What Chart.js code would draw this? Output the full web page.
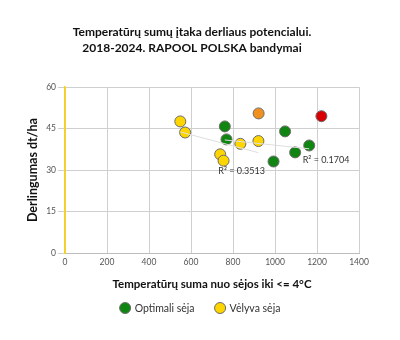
<!DOCTYPE html>
<html>
<head>
<meta charset="utf-8">
<script src="https://cdn.jsdelivr.net/npm/chart.js@4"></script>
<style>
  html, body { margin: 0; padding: 0; background: #fff; }
  #wrap { width: 400px; height: 340px; }
</style>
</head>
<body>
<div id="wrap"><canvas id="chart"></canvas></div>
<script>
// ===== Data =====
const optimalX = [761, 769, 993, 1048, 1096, 1163];
const optimalY = [45.8, 41.1, 33.1, 44.0, 36.4, 38.9];
const lateX = [549, 572, 739, 755, 835, 921];
const lateY = [47.6, 43.6, 35.7, 33.4, 39.5, 40.5];
const orangeX = [922];
const orangeY = [50.5];
const redX = [1221];
const redY = [49.5];

// trend lines
const trendLateX = [549, 921];
const trendLateY = [43.8, 36.3];
const trendOptX = [761, 1163];
const trendOptY = [40.9, 37.7];

const r2Labels = ["R² = 0.3513", "R² = 0.1704"];
const r2X = [841, 1243];
const r2Y = [29.6, 33.6];

const xTicks = [0, 200, 400, 600, 800, 1000, 1200, 1400];
const yTicks = [0, 15, 30, 45, 60];
const legendNames = ["Optimali sėja", "Vėlyva sėja"];

const toPoints = (xs, ys) => xs.map((x, i) => ({ x, y: ys[i] }));

// ===== R² text =====
const r2Plugin = {
  id: "r2Text",
  afterDatasetsDraw(chart) {
    const { ctx, scales } = chart;
    ctx.save();
    ctx.font = "9px Lato";
    ctx.fillStyle = "#333";
    ctx.textAlign = "center";
    ctx.textBaseline = "middle";
    r2Labels.forEach((t, i) => {
      ctx.fillText(t, scales.x.getPixelForValue(r2X[i]), scales.y.getPixelForValue(r2Y[i]));
    });
    ctx.restore();
  }
};

// ===== Legend (only the two named series) =====
const legendPlugin = {
  id: "bottomLegend",
  afterDraw(chart) {
    const { ctx } = chart;
    const items = chart.data.datasets.filter(d => legendNames.includes(d.label));
    ctx.save();
    ctx.font = "10.5px Lato";
    const r = 5.5, gap = 4, spacing = 20, y = 308;
    const widths = items.map(d => 2 * r + gap + ctx.measureText(d.label).width);
    const total = widths.reduce((a, b) => a + b, 0) + spacing * (items.length - 1);
    let x = (chart.width - total) / 2;
    items.forEach((d, i) => {
      ctx.beginPath();
      ctx.arc(x + r, y, r, 0, Math.PI * 2);
      ctx.fillStyle = d.backgroundColor;
      ctx.fill();
      ctx.lineWidth = 1;
      ctx.strokeStyle = d.borderColor;
      ctx.stroke();
      ctx.fillStyle = "#333";
      ctx.textBaseline = "middle";
      ctx.fillText(d.label, x + 2 * r + gap, y + 0.5);
      x += widths[i] + spacing;
    });
    ctx.restore();
  }
};

const pointStyle = (fill) => ({
  type: "scatter",
  backgroundColor: fill,
  borderColor: "#6b6b6b",
  borderWidth: 1,
  pointRadius: 5.5,
  pointHoverRadius: 5.5
});

const trendStyle = {
  type: "line",
  borderColor: "#dedede",
  borderWidth: 1,
  pointRadius: 0,
  fill: false
};

new Chart(document.getElementById("chart"), {
  data: {
    datasets: [
      { ...trendStyle, label: "trendLate", data: toPoints(trendLateX, trendLateY) },
      { ...trendStyle, label: "trendOpt", data: toPoints(trendOptX, trendOptY) },
      { ...pointStyle("#118511"), label: "Optimali sėja", data: toPoints(optimalX, optimalY) },
      { ...pointStyle("#ffd500"), label: "Vėlyva sėja", data: toPoints(lateX, lateY) },
      { ...pointStyle("#f0901e"), label: "orange", data: toPoints(orangeX, orangeY) },
      { ...pointStyle("#d80000"), label: "red", data: toPoints(redX, redY) }
    ]
  },
  options: {
    responsive: true,
    maintainAspectRatio: false,
    animation: false,
    layout: { padding: { top: 20, left: 25, right: 41, bottom: 49 } },
    plugins: {
      tooltip: { enabled: false },
      legend: { display: false },
      title: {
        display: true,
        text: ["Temperatūrų sumų įtaka derliaus potencialui.", "2018-2024. RAPOOL POLSKA bandymai"],
        color: "#111",
        font: { family: "Lato", size: 12, weight: "bold", lineHeight: 1.34 },
        padding: { top: 4, bottom: 31 }
      }
    },
    scales: {
      x: {
        type: "linear",
        min: 0,
        max: 1400,
        afterBuildTicks: (s) => { s.ticks = xTicks.map(v => ({ value: v })); },
        ticks: { color: "#555", font: { family: "Lato", size: 8.5 }, padding: 4, callback: (v) => String(v) },
        grid: { color: "#cfcfcf", drawTicks: false },
        border: { color: "#bdbdbd" },
        title: {
          display: true,
          text: "Temperatūrų suma nuo sėjos iki <= 4°C",
          color: "#111",
          font: { family: "Lato", size: 11.5, weight: "bold" },
          padding: { top: 6, bottom: 0 }
        }
      },
      y: {
        type: "linear",
        min: 0,
        max: 60,
        afterBuildTicks: (s) => { s.ticks = yTicks.map(v => ({ value: v })); },
        afterFit: (s) => { s.width = 40; },
        ticks: { color: "#555", font: { family: "Lato", size: 8.5 }, padding: 2 },
        grid: { color: "#cfcfcf", tickLength: 7 },
        border: { color: "#ffd200", width: 1.5 },
        title: {
          display: true,
          text: "Derlingumas dt/ha",
          color: "#111",
          font: { family: "Lato", size: 12.5, weight: "bold" },
          padding: { top: 0, bottom: 10 }
        }
      }
    }
  },
  plugins: [r2Plugin, legendPlugin]
});
</script>
</body>
</html>
